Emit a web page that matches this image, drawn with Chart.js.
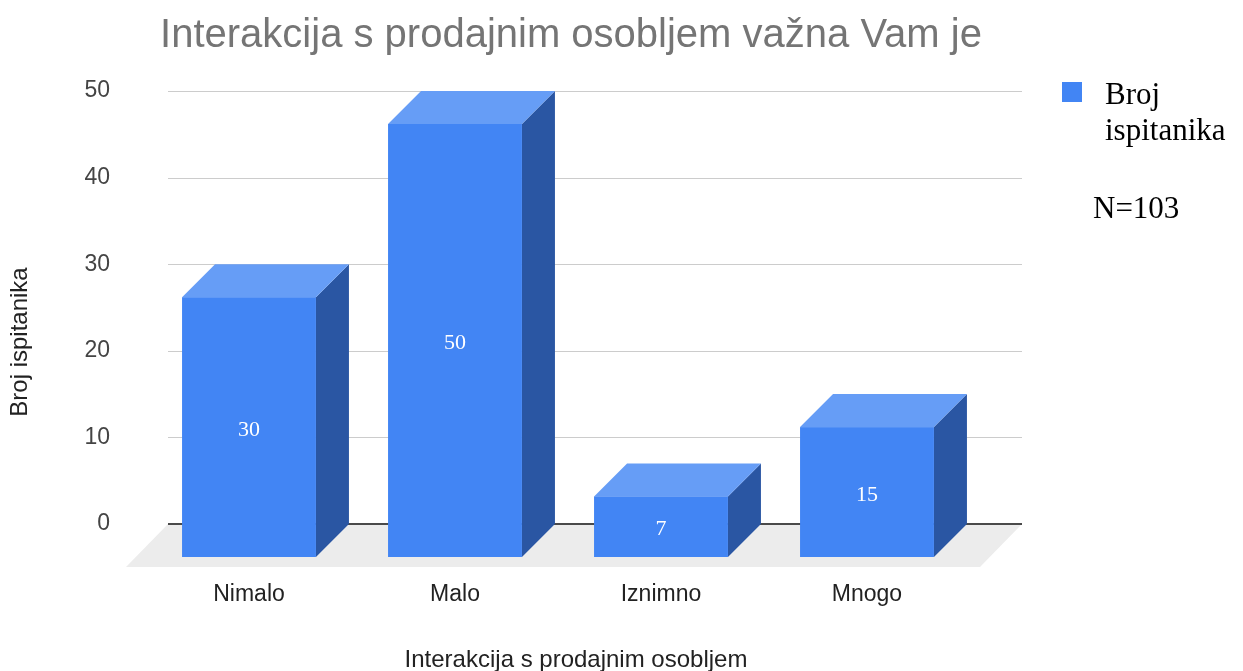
<!DOCTYPE html>
<html>
<head>
<meta charset="utf-8">
<script src="https://cdn.jsdelivr.net/npm/chart.js@4/dist/chart.umd.min.js"></script>
<style>
  html, body { margin: 0; padding: 0; background: #fff; }
</style>
</head>
<body>
<canvas id="chart" width="1243" height="671"></canvas>
<script>
// data
const categories = ['Nimalo', 'Malo', 'Iznimno', 'Mnogo'];
const respondents = [30, 50, 7, 15];
const yTicks = [0, 10, 20, 30, 40, 50];
const seriesName = 'Broj ispitanika';
const sampleNote = 'N=103';
const titleText = 'Interakcija s prodajnim osobljem važna Vam je';
const xTitle = 'Interakcija s prodajnim osobljem';
const yTitle = 'Broj ispitanika';

const SANS = '"Liberation Sans", Arial, sans-serif';
const SERIF = '"Liberation Serif", "Times New Roman", serif';
const DEPTH = 33;       // 3d offset of the bars
const FLOOR = 42;       // depth of the grey floor

const box3d = {
    id: 'box3d',
    beforeDatasetsDraw(chart) {
        const ctx = chart.ctx;
        const area = chart.chartArea;
        const yScale = chart.scales.y;
        const left = area.left - 11, right = area.right + 19;
        const zero = Math.round(yScale.getPixelForValue(0));

        ctx.save();
        // floor
        ctx.fillStyle = '#ececec';
        ctx.beginPath();
        ctx.moveTo(left, zero);
        ctx.lineTo(right, zero);
        ctx.lineTo(right - FLOOR, zero + FLOOR + 1);
        ctx.lineTo(left - FLOOR, zero + FLOOR + 1);
        ctx.closePath();
        ctx.fill();

        // gridlines
        ctx.strokeStyle = '#cccccc';
        ctx.lineWidth = 1;
        yTicks.forEach(v => {
            if (v === 0) return;
            const y = Math.round(yScale.getPixelForValue(v)) + 0.5;
            ctx.beginPath();
            ctx.moveTo(left, y);
            ctx.lineTo(right, y);
            ctx.stroke();
        });

        // baseline
        ctx.strokeStyle = '#4a4a4a';
        ctx.lineWidth = 2;
        ctx.beginPath();
        ctx.moveTo(left, zero);
        ctx.lineTo(right, zero);
        ctx.stroke();
        ctx.restore();
    },
    afterDatasetsDraw(chart) {
        const ctx = chart.ctx;
        const meta = chart.getDatasetMeta(0);
        ctx.save();
        meta.data.forEach((bar, i) => {
            const p = bar.getProps(['x', 'y', 'base', 'width'], true);
            const bl = p.x - p.width / 2, br = p.x + p.width / 2;
            const bt = p.y, bb = p.base;
            const fl = bl - DEPTH, fr = br - DEPTH;
            const ft = bt + DEPTH, fb = bb + DEPTH;

            // side
            ctx.fillStyle = '#2a56a3';
            ctx.beginPath();
            ctx.moveTo(fr, ft); ctx.lineTo(br, bt); ctx.lineTo(br, bb); ctx.lineTo(fr, fb);
            ctx.closePath(); ctx.fill();
            // top
            ctx.fillStyle = '#669df6';
            ctx.beginPath();
            ctx.moveTo(fl, ft); ctx.lineTo(bl, bt); ctx.lineTo(br, bt); ctx.lineTo(fr, ft);
            ctx.closePath(); ctx.fill();
            // front
            ctx.fillStyle = '#4285f4';
            ctx.fillRect(fl, ft, fr - fl, fb - ft);

            // value
            ctx.fillStyle = '#ffffff';
            ctx.font = '22px ' + SERIF;
            ctx.textAlign = 'center';
            ctx.textBaseline = 'middle';
            ctx.fillText(String(respondents[i]), (fl + fr) / 2, (ft + fb) / 2 + 3);
        });
        ctx.restore();
    },
    afterDraw(chart) {
        const ctx = chart.ctx;
        ctx.save();
        // chart title
        ctx.fillStyle = '#757575';
        ctx.font = '40px ' + SANS;
        ctx.textAlign = 'center';
        ctx.textBaseline = 'alphabetic';
        ctx.fillText(titleText, 571, 47);

        // axis titles
        ctx.fillStyle = '#222222';
        ctx.font = '24px ' + SANS;
        ctx.textBaseline = 'middle';
        ctx.fillText(xTitle, 576, 660);
        ctx.translate(20, 342);
        ctx.rotate(-Math.PI / 2);
        ctx.fillText(yTitle, 0, 0);
        ctx.restore();

        // legend + note
        ctx.save();
        ctx.fillStyle = '#4285f4';
        ctx.fillRect(1062, 82, 20, 20);
        ctx.fillStyle = '#000000';
        ctx.font = '31px ' + SERIF;
        ctx.textAlign = 'left';
        ctx.textBaseline = 'alphabetic';
        const words = seriesName.split(' ');
        ctx.fillText(words[0], 1105, 104);
        ctx.fillText(words.slice(1).join(' '), 1105, 140);
        ctx.fillText(sampleNote, 1093, 218);
        ctx.restore();
    }
};

new Chart(document.getElementById('chart'), {
    type: 'bar',
    data: {
        labels: categories,
        datasets: [{
            label: seriesName,
            data: respondents,
            backgroundColor: 'rgba(0,0,0,0)',
            barPercentage: 0.65,
            categoryPercentage: 1
        }]
    },
    options: {
        responsive: false,
        animation: false,
        layout: { padding: { left: 0, right: 240, top: 91, bottom: 0 } },
        plugins: {
            legend: { display: false },
            tooltip: { enabled: false },
            title: { display: false }
        },
        scales: {
            x: {
                grid: { display: false },
                border: { display: false },
                ticks: {
                    color: '#222222',
                    font: { family: SANS, size: 23 },
                    labelOffset: -DEPTH,
                    padding: 49
                },
                afterFit(scale) { scale.height = 147; }
            },
            y: {
                min: 0,
                max: 50,
                grid: { display: false },
                border: { display: false },
                ticks: {
                    stepSize: 10,
                    color: '#444444',
                    font: { family: SANS, size: 23 },
                    padding: 61
                },
                afterFit(scale) { scale.width = 179; }
            }
        }
    },
    plugins: [box3d]
});
</script>
</body>
</html>
